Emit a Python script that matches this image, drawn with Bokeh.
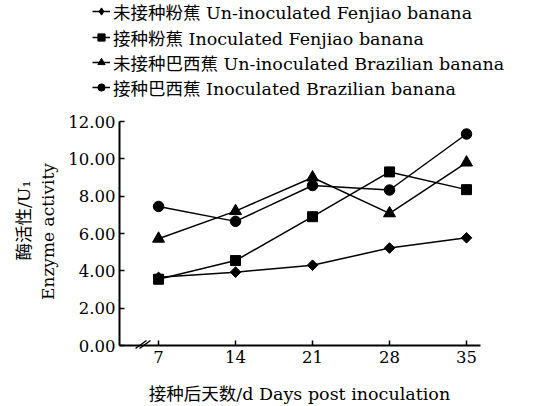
import math
from bokeh.plotting import figure
from bokeh.models import (Legend, LegendItem, Label, Arrow, FixedTicker,
                          NumeralTickFormatter, Range1d)
from bokeh.embed import file_html
from bokeh.resources import INLINE

# ---- data ----
days = [7, 14, 21, 28, 35]
unin_fenjiao = [3.65, 3.93, 4.30, 5.22, 5.77]
inoc_fenjiao = [3.55, 4.55, 6.90, 9.30, 8.35]
unin_brazil = [5.72, 7.20, 9.00, 7.08, 9.80]
inoc_brazil = [7.45, 6.65, 8.57, 8.33, 11.33]
series_labels = ["未接种粉蕉 Un-inoculated Fenjiao banana",
                 "接种粉蕉 Inoculated Fenjiao banana",
                 "未接种巴西蕉 Un-inoculated Brazilian banana",
                 "接种巴西蕉 Inoculated Brazilian banana"]
y_ticks = [0, 2, 4, 6, 8, 10, 12]
x_title = "接种后天数/d Days post inoculation"
y_title1 = "酶活性/U₁"
y_title2 = "Enzyme activity"

FONT = "DejaVu Serif, Noto Sans CJK SC"
W, H = 542, 406
# pixel placement of the axes box (axis origin and ends)
AX_L, AX_R, AX_T, AX_B = 119, 480, 121, 345
XA0, XA1 = 3.45, 36.27
YA0, YA1 = 0, 12
kx = (AX_R - AX_L) / (XA1 - XA0)
ky = (AX_B - AX_T) / (YA1 - YA0)
X0 = XA0 - AX_L / kx
X1 = XA0 + (W - AX_L) / kx
Y0 = YA0 - (H - AX_B) / ky
Y1 = YA0 + AX_B / ky

p = figure(width=W, height=H, output_backend="svg", toolbar_location=None,
           x_range=Range1d(X0, X1), y_range=Range1d(Y0, Y1),
           min_border=0)
p.outline_line_color = None
p.xgrid.visible = False
p.ygrid.visible = False
p.background_fill_color = "white"
p.border_fill_color = "white"

def sx(px):
    return X0 + px / kx
def sy(py):
    return Y0 + (H - py) / ky

# axes placed inside the frame
p.xaxis.fixed_location = YA0
p.yaxis.fixed_location = XA0
p.xaxis.bounds = (XA0, XA1)
p.yaxis.bounds = (YA0, YA1)
for ax in (p.xaxis[0], p.yaxis[0]):
    ax.axis_line_width = 2
    ax.axis_line_color = "black"
    ax.major_tick_in = 5
    ax.major_tick_out = 0
    ax.major_tick_line_width = 1.5
    ax.minor_tick_line_color = None
    ax.major_label_text_font = FONT
    ax.major_label_text_font_size = "16.5px"
    ax.major_label_text_color = "black"
p.xaxis.ticker = FixedTicker(ticks=days)
p.yaxis.ticker = FixedTicker(ticks=y_ticks)
p.yaxis.formatter = NumeralTickFormatter(format="0.00")
p.xaxis.major_label_standoff = 5
p.yaxis.major_label_standoff = 4

markers = ["square", "square", "triangle", "circle"]
angles = [math.pi / 4, 0, 0, 0]
sizes = [7.5, 10, 12, 10.5]
leg_markers = ["diamond", "square", "triangle", "circle"]
leg_sizes = [9, 7, 9, 7.5]
row_centers = [11, 37, 62, 87]
LH = 30
for ys, mk, ang, sz, lmk, lsz, lab, rc in zip(
        [unin_fenjiao, inoc_fenjiao, unin_brazil, inoc_brazil],
        markers, angles, sizes, leg_markers, leg_sizes, series_labels, row_centers):
    # small legend marker, drawn underneath (hidden by the plot marker)
    lsc = p.scatter(days, ys, marker=lmk, size=lsz, fill_color="black",
                    line_color="black")
    ln = p.line(days, ys, line_color="black", line_width=1.5)
    p.scatter(days, ys, marker=mk, angle=ang, size=sz,
              fill_color="black", line_color="black")
    lg = Legend(items=[LegendItem(label=lab, renderers=[ln, lsc])],
                location=(92, H - (rc + LH / 2)), orientation="vertical",
                label_text_font=FONT, label_text_font_size="17.5px",
                label_text_color="black", glyph_width=18, glyph_height=LH,
                label_height=LH, spacing=0, padding=0, margin=0,
                label_standoff=3, border_line_color=None,
                background_fill_alpha=0)
    p.add_layout(lg, "center")

# axis break marks
for off in (0, 4):
    p.add_layout(Arrow(x_start=sx(135 + off), y_start=sy(348), x_end=sx(146 + off),
                       y_end=sy(340), end=None, line_width=1.5, line_color="black"))

# titles
p.add_layout(Label(x=sx(299), y=sy(393), text=x_title, text_font=FONT,
                   text_font_size="17.5px", text_align="center",
                   text_baseline="middle", text_color="black"))
p.add_layout(Label(x=sx(23), y=sy(220), text=y_title1, text_font=FONT,
                   text_font_size="17.5px", text_align="center",
                   text_baseline="middle", angle=math.pi / 2, text_color="black"))
p.add_layout(Label(x=sx(47), y=sy(231), text=y_title2, text_font=FONT,
                   text_font_size="17px", text_align="center",
                   text_baseline="middle", angle=math.pi / 2, text_color="black"))

open("out.html", "w").write(file_html(p, INLINE))
